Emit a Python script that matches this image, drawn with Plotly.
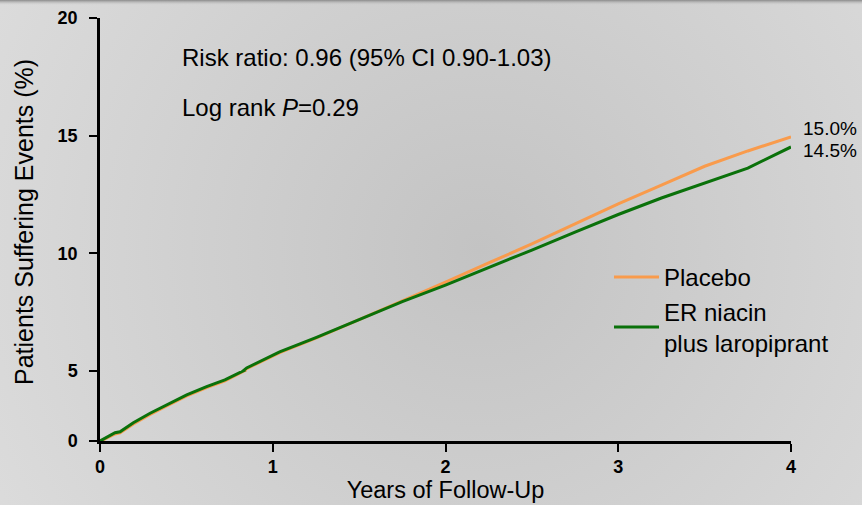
import base64
import plotly.graph_objects as go

# ---------------- data ----------------
years = [0, 0.01, 0.087, 0.116, 0.193, 0.29, 0.386, 0.502, 0.617, 0.723, 0.849,
         1.04, 1.25, 1.5, 1.75, 2.0, 2.25, 2.5, 2.75, 3.0, 3.25, 3.5, 3.75, 4.0]
placebo = [0, 0.03, 0.50, 0.58, 1.22, 1.90, 2.50, 3.22, 3.82, 4.30, 5.10,
           5.78, 6.40, 7.18, 7.97, 8.78, 9.59, 10.40, 11.25, 12.1, 12.9, 13.7, 14.35, 14.95]
niacin = [0, 0.07, 0.59, 0.66, 1.31, 1.98, 2.57, 3.29, 3.88, 4.36, 5.13,
          5.81, 6.42, 7.18, 7.95, 8.65, 9.38, 10.14, 10.9, 11.65, 12.35, 13.0, 13.62, 14.52]
series_names = ["Placebo", "ER niacin<br>plus laropiprant"]
end_labels = ["15.0%", "14.5%"]
x_ticks = [0, 1, 2, 3, 4]
y_ticks_low = [0, 5]
y_ticks_high = [10, 15, 20]

ORANGE = "#F99B4C"
GREEN = "#0A710A"
FONT = "Liberation Sans, Arial, sans-serif"

W, H = 862, 505
ML, MR, MT, MB = 100, 71, 18, 64
PW, PH = W - ML - MR, H - MT - MB
low_frac = 70 / PH  # the 0-5 band is drawn compressed in the original

fig = go.Figure()
for yref, show in (("y", False), ("y2", True)):
    fig.add_trace(go.Scatter(x=years, y=placebo, mode="lines", name=series_names[0],
                             line=dict(color=ORANGE, width=3), yaxis=yref,
                             showlegend=show, legendrank=1))
    fig.add_trace(go.Scatter(x=years, y=niacin, mode="lines", name=series_names[1],
                             line=dict(color=GREEN, width=3), yaxis=yref,
                             showlegend=show, legendrank=2))

# background: soft radial grey gradient
svg = f'''<svg xmlns="http://www.w3.org/2000/svg" width="{W}" height="{H}" viewBox="0 0 {W} {H}" preserveAspectRatio="none">
<defs>
<radialGradient id="g" gradientUnits="userSpaceOnUse" cx="480" cy="250" r="560">
<stop offset="0" stop-color="#c3c3c3"/><stop offset="1" stop-color="#dcdcdc"/>
</radialGradient>
<linearGradient id="t" x1="0" y1="0" x2="0" y2="1">
<stop offset="0" stop-color="#8a8a8a" stop-opacity="1"/><stop offset="1" stop-color="#c8c8c8" stop-opacity="0"/>
</linearGradient>
</defs>
<rect width="{W}" height="{H}" fill="url(#g)"/>
<rect width="{W}" height="5" fill="url(#t)"/>
</svg>'''
src = "data:image/svg+xml;base64," + base64.b64encode(svg.encode()).decode()

axis_common = dict(showline=True, linecolor="black", linewidth=2.5, ticks="outside",
                   ticklen=8, tickwidth=2, tickcolor="black", showgrid=False,
                   zeroline=False, automargin=False,
                   tickfont=dict(family=FONT, size=18, color="black", weight="bold"))

fig.update_layout(
    width=W, height=H, autosize=False,
    margin=dict(l=ML, r=MR, t=MT, b=MB, pad=0, autoexpand=False),
    paper_bgcolor="#d4d4d4", plot_bgcolor="rgba(0,0,0,0)",
    font=dict(family=FONT, color="black"),
    images=[dict(source=src, xref="paper", yref="paper", x=-ML / PW, y=1 + MT / PH,
                 sizex=W / PW, sizey=H / PH, sizing="stretch", xanchor="left",
                 yanchor="top", layer="below")],
    xaxis=dict(range=[0, 4], domain=[0, 1], anchor="y", tickvals=x_ticks,
               title=dict(text="Years of Follow-Up", font=dict(size=23.5), standoff=5),
               ticklabelstandoff=0, **axis_common),
    yaxis=dict(range=[0, 5], domain=[0, low_frac], anchor="x", tickvals=y_ticks_low,
               ticklabelstandoff=8, **axis_common),
    yaxis2=dict(range=[5, 20], domain=[low_frac, 1], anchor="x", tickvals=y_ticks_high,
                ticklabelstandoff=8, **axis_common),
    legend=dict(x=(609 - ML) / PW, y=(441 - 255) / PH, xanchor="left", yanchor="top",
                bgcolor="rgba(0,0,0,0)", font=dict(size=24, family=FONT, color="black"),
                tracegroupgap=2, valign="middle", itemwidth=45),
    showlegend=True,
)

fig.add_annotation(text="Patients Suffering Events (%)", textangle=-90, xref="paper", yref="paper",
                   x=(24 - ML) / PW, y=(441 - 222) / PH, xanchor="center", yanchor="middle",
                   showarrow=False, font=dict(size=25, family=FONT, color="black"))
fig.add_annotation(text="Risk ratio: 0.96 (95% CI 0.90-1.03)", xref="paper", yref="paper",
                   x=(180 - ML) / PW, y=(441 - 57) / PH, xanchor="left", yanchor="middle",
                   showarrow=False, font=dict(size=24, family=FONT, color="black"))
fig.add_annotation(text="Log rank <i>P</i>=0.29", xref="paper", yref="paper",
                   x=(180 - ML) / PW, y=(441 - 108) / PH, xanchor="left", yanchor="middle",
                   showarrow=False, font=dict(size=24, family=FONT, color="black"))
# end-of-curve labels anchored on the final data points
fig.add_annotation(text=end_labels[0], x=years[-1], y=placebo[-1], xref="x", yref="y2",
                   xanchor="left", yanchor="middle", xshift=10, yshift=8, showarrow=False,
                   font=dict(size=19, family=FONT, color="black"))
fig.add_annotation(text=end_labels[1], x=years[-1], y=niacin[-1], xref="x", yref="y2",
                   xanchor="left", yanchor="middle", xshift=10, yshift=-4, showarrow=False,
                   font=dict(size=19, family=FONT, color="black"))

fig.write_html("out.html")
